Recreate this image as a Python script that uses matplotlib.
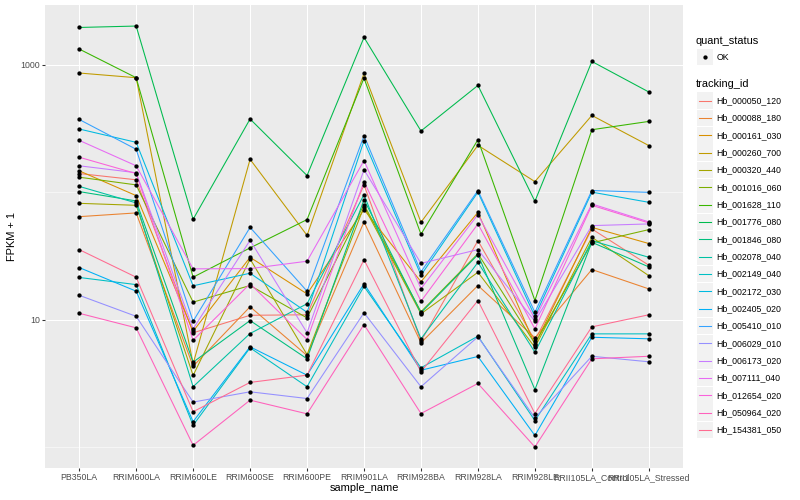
import matplotlib
matplotlib.use("Agg")
import matplotlib.pyplot as plt
import numpy as np
from matplotlib.lines import Line2D
from matplotlib.patches import Rectangle

plt.rcParams['font.family'] = ['Liberation Sans', 'DejaVu Sans']

samples = ["PB350LA", "RRIM600LA", "RRIM600LE", "RRIM600SE", "RRIM600PE",
           "RRIM901LA", "RRIM928BA", "RRIM928LA", "RRIM928LE",
           "RRII105LA_Control", "RRII105LA_Stressed"]

tracking_ids = ["Hb_000050_120", "Hb_000088_180", "Hb_000161_030", "Hb_000260_700",
                "Hb_000320_440", "Hb_001016_060", "Hb_001628_110", "Hb_001776_080",
                "Hb_001846_080", "Hb_002078_040", "Hb_002149_040", "Hb_002172_030",
                "Hb_002405_020", "Hb_005410_010", "Hb_006029_010", "Hb_006173_020",
                "Hb_007111_040", "Hb_012654_020", "Hb_050964_020", "Hb_154381_050"]

colors = ["#F8766D", "#EA8331", "#D89000", "#C09B00", "#A3A500", "#7CAE00", "#39B600",
          "#00BB4E", "#00BF7D", "#00C1A3", "#00BFC4", "#00BAE0", "#00B0F6", "#35A2FF",
          "#9590FF", "#C77CFF", "#E76BF3", "#FA62DB", "#FF62BC", "#FF6C91"]

# FPKM + 1 per sample (same order as samples)
Hb_000050_120 = [140, 125, 7.87, 10.8, 10.9, 114, 6.76, 41.6, 6.84, 51.4, 26.7]
Hb_000088_180 = [64.2, 68.7, 4.30, 12.6, 5.22, 58.4, 6.57, 18.5, 7.19, 24.7, 17.4]
Hb_000161_030 = [147, 93.9, 8.09, 30.8, 15.9, 72.9, 19.8, 69.4, 6.37, 52.9, 39.5]
Hb_000260_700 = [861, 791, 4.49, 181, 45.8, 855, 58.0, 233, 121, 400, 232]
Hb_000320_440 = [81.7, 78.8, 3.64, 29.9, 5.31, 76.9, 11.1, 23.5, 6.06, 44.2, 22.1]
Hb_001016_060 = [131, 114, 13.7, 18.5, 10.3, 79.8, 11.5, 32.9, 6.48, 40.0, 50.8]
Hb_001628_110 = [1328, 791, 21.5, 36.5, 60.9, 786, 46.7, 258, 14.1, 309, 359]
Hb_001776_080 = [1961, 2012, 61.2, 375, 135, 1638, 302, 688, 84.7, 1061, 611]
Hb_001846_080 = [101, 85.3, 4.63, 9.82, 4.92, 87.4, 11.3, 32.3, 2.82, 40.4, 25.9]
Hb_002078_040 = [111, 82.3, 2.97, 7.77, 13.3, 95.6, 7.06, 28.1, 5.54, 41.6, 30.8]
Hb_002149_040 = [21.4, 18.8, 1.48, 6.00, 2.97, 18.2, 4.18, 7.40, 1.61, 7.72, 7.72]
Hb_002172_030 = [313, 246, 18.4, 23.1, 11.4, 253, 22.3, 100, 10.6, 100, 83.2]
Hb_002405_020 = [25.6, 16.7, 1.58, 6.11, 3.66, 19.1, 4.00, 5.13, 1.23, 7.26, 7.06]
Hb_005410_010 = [372, 217, 9.70, 52.9, 16.7, 277, 23.7, 103, 11.4, 103, 99.6]
Hb_006029_010 = [15.5, 10.6, 2.25, 2.71, 2.40, 11.3, 2.97, 7.32, 1.69, 5.15, 4.66]
Hb_006173_020 = [161, 142, 8.45, 41.9, 7.87, 150, 27.6, 35.4, 9.70, 54.6, 56.3]
Hb_007111_040 = [255, 161, 25.0, 25.1, 28.7, 177, 17.5, 66.6, 10.1, 80.8, 58.4]
Hb_012654_020 = [188, 140, 6.88, 19.1, 6.97, 121, 13.9, 56.3, 8.45, 78.8, 57.3]
Hb_050964_020 = [11.2, 8.61, 1.03, 2.33, 1.82, 9.14, 1.83, 3.15, 1.00, 4.92, 5.15]
Hb_154381_050 = [35.4, 21.5, 1.89, 3.21, 3.66, 29.5, 3.89, 14.1, 1.83, 8.76, 10.9]

series = [Hb_000050_120, Hb_000088_180, Hb_000161_030, Hb_000260_700, Hb_000320_440,
          Hb_001016_060, Hb_001628_110, Hb_001776_080, Hb_001846_080, Hb_002078_040,
          Hb_002149_040, Hb_002172_030, Hb_002405_020, Hb_005410_010, Hb_006029_010,
          Hb_006173_020, Hb_007111_040, Hb_012654_020, Hb_050964_020, Hb_154381_050]

W, H = 800, 500
PT = 0.72  # points per pixel at dpi 100

fig = plt.figure(figsize=(8, 5), dpi=100)
fig.patch.set_facecolor("white")

# panel in pixel coords
L, R, T, B = 45, 683, 5, 468
ax = fig.add_axes([L / W, 1 - B / H, (R - L) / W, (B - T) / H])
ax.set_facecolor("#EBEBEB")
for s in ax.spines.values():
    s.set_visible(False)

x = np.arange(len(samples))
for vals, col in zip(series, colors):
    ax.plot(x, vals, color=col, lw=1.07 * PT, zorder=3, solid_capstyle="butt")
for vals in series:
    ax.plot(x, vals, ls="none", marker="o", ms=4.3 * PT, color="black", mew=0, zorder=4)

ax.set_yscale("log")
allv = np.log10(np.concatenate([np.array(v, dtype=float) for v in series]))
lo, hi = allv.min(), allv.max()
pad = 0.05 * (hi - lo)
ax.set_ylim(10 ** (lo - pad), 10 ** (hi + pad))
ax.set_xlim(-0.6, len(samples) - 1 + 0.6)

ax.set_yticks([10, 1000])
ax.set_yticklabels(["10", "1000"])
ax.set_yticks([1, 100], minor=True)
ax.yaxis.set_minor_formatter(matplotlib.ticker.NullFormatter())
ax.set_xticks(x)
ax.set_xticklabels(samples)

ax.grid(True, which="major", color="white", lw=1.07 * PT, zorder=0)
ax.grid(True, which="minor", axis="y", color="white", lw=0.53 * PT, zorder=0)
ax.set_axisbelow(True)
ax.tick_params(which="major", length=2.75 * PT, width=1.07 * PT, color="#333333",
               labelsize=8.8 * PT, labelcolor="#4D4D4D", pad=2.2 * PT)
ax.tick_params(which="minor", length=0)

# axis titles
def fx(px):
    return px / W

def fy(py):
    return 1 - py / H

fig.text(fx((L + R) / 2), fy(488), "sample_name", ha="center", va="center",
         fontsize=11 * PT, color="black")
fig.text(fx(12), fy((T + B) / 2), "FPKM + 1", ha="center", va="center",
         rotation=90, fontsize=11 * PT, color="black")

# legend: quant_status
fig.text(fx(696), fy(40.7), "quant_status", ha="left", va="center",
         fontsize=11 * PT, color="black")
kx0, kw, kh = 697.3, 15.4, 16.6
fig.add_artist(Rectangle((fx(kx0), fy(57 + kh / 2)), kw / W, kh / H,
                         transform=fig.transFigure, facecolor="#F2F2F2",
                         edgecolor="none"))
fig.add_artist(Line2D([fx(kx0 + kw / 2)], [fy(57)], transform=fig.transFigure,
                      marker="o", ms=4.3 * PT, color="black", mew=0, ls="none"))
fig.text(fx(716.7), fy(57), "OK", ha="left", va="center",
         fontsize=8.8 * PT, color="black")

# legend: tracking_id
fig.text(fx(696), fy(84), "tracking_id", ha="left", va="center",
         fontsize=11 * PT, color="black")
y0, dy = 100.7, 17.33
for i, (tid, col) in enumerate(zip(tracking_ids, colors)):
    cy = y0 + i * dy
    fig.add_artist(Rectangle((fx(kx0), fy(cy + kh / 2)), kw / W, kh / H,
                             transform=fig.transFigure, facecolor="#F2F2F2",
                             edgecolor="none"))
    fig.add_artist(Line2D([fx(kx0 + 1.5), fx(kx0 + kw - 1.5)], [fy(cy), fy(cy)],
                          transform=fig.transFigure, color=col, lw=1.07 * PT))
    fig.text(fx(716.7), fy(cy), tid, ha="left", va="center",
             fontsize=8.8 * PT, color="black")

fig.savefig("out.png", dpi=100)
